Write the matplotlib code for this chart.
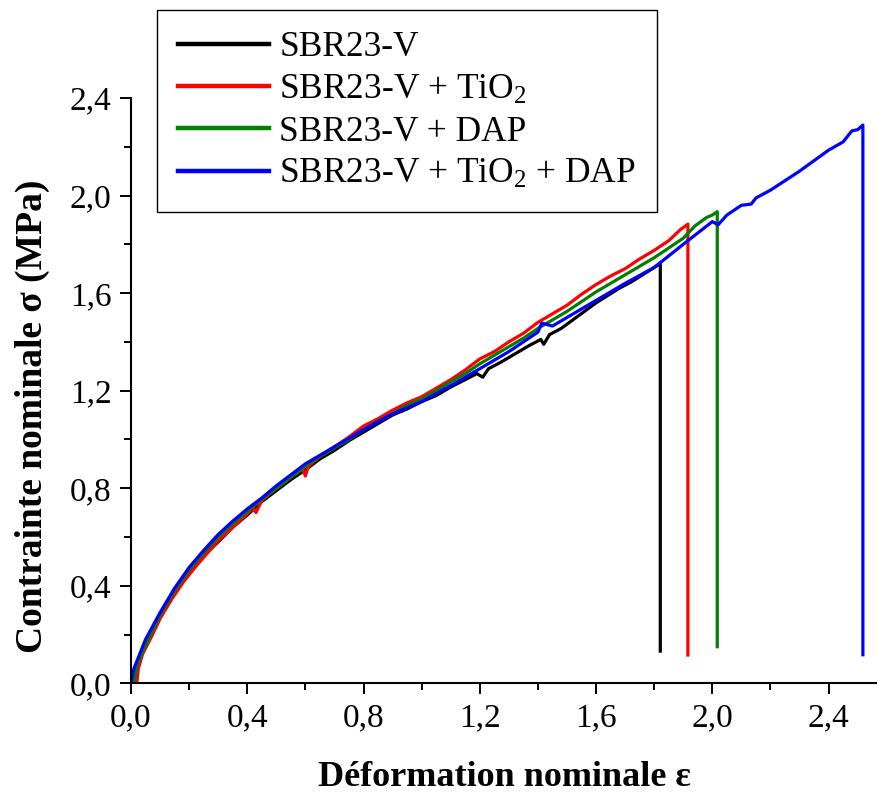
import matplotlib
matplotlib.use("Agg")
import matplotlib.pyplot as plt

plt.rcParams["font.family"] = ["Liberation Serif", "DejaVu Serif"]
plt.rcParams["mathtext.fontset"] = "custom"
plt.rcParams["mathtext.rm"] = "Liberation Serif"
plt.rcParams["mathtext.default"] = "regular"

# SBR23-V
x_black = [0.01, 0.02, 0.04, 0.07, 0.10, 0.14, 0.18, 0.22, 0.26, 0.30, 0.35, 0.40, 0.45,
           0.50, 0.55, 0.60, 0.65, 0.70, 0.75, 0.80, 0.85, 0.90, 0.95, 1.00, 1.05, 1.10,
           1.15, 1.19, 1.21, 1.23, 1.27, 1.32, 1.37, 1.41, 1.42, 1.44, 1.48, 1.52, 1.56,
           1.60, 1.64, 1.68, 1.72, 1.76, 1.80, 1.821, 1.821]
y_black = [0.0, 0.07, 0.13, 0.20, 0.27, 0.35, 0.42, 0.48, 0.535, 0.58, 0.64, 0.69, 0.745,
           0.79, 0.835, 0.875, 0.92, 0.955, 0.995, 1.03, 1.065, 1.10, 1.125, 1.155, 1.18, 1.215,
           1.245, 1.27, 1.255, 1.29, 1.315, 1.35, 1.385, 1.41, 1.39, 1.43, 1.455, 1.49, 1.525,
           1.56, 1.59, 1.62, 1.645, 1.675, 1.705, 1.722, 0.132]

# SBR23-V + TiO2
x_red = [0.02, 0.025, 0.04, 0.07, 0.10, 0.14, 0.18, 0.22, 0.26, 0.30, 0.35, 0.40, 0.42,
         0.43, 0.45, 0.50, 0.55, 0.59, 0.60, 0.61, 0.65, 0.70, 0.75, 0.80, 0.85, 0.90,
         0.95, 1.00, 1.05, 1.10, 1.15, 1.20, 1.25, 1.30, 1.35, 1.40, 1.45, 1.50, 1.55,
         1.60, 1.65, 1.70, 1.75, 1.80, 1.85, 1.89, 1.916, 1.916]
y_red = [0.0, 0.06, 0.12, 0.19, 0.265, 0.345, 0.415, 0.475, 0.53, 0.585, 0.64, 0.695, 0.72,
         0.70, 0.75, 0.80, 0.845, 0.88, 0.85, 0.89, 0.93, 0.97, 1.01, 1.055, 1.085, 1.12,
         1.15, 1.175, 1.21, 1.245, 1.285, 1.33, 1.36, 1.40, 1.435, 1.48, 1.515, 1.55, 1.595,
         1.635, 1.67, 1.70, 1.74, 1.775, 1.815, 1.86, 1.883, 0.116]

# SBR23-V + DAP
x_green = [0.01, 0.02, 0.04, 0.07, 0.10, 0.15, 0.20, 0.25, 0.30, 0.35, 0.40, 0.45, 0.50,
           0.55, 0.60, 0.65, 0.70, 0.75, 0.80, 0.85, 0.90, 0.95, 1.00, 1.05, 1.10, 1.15,
           1.20, 1.25, 1.30, 1.35, 1.40, 1.45, 1.50, 1.55, 1.60, 1.65, 1.70, 1.75, 1.80,
           1.85, 1.90, 1.94, 1.98, 2.00, 2.017, 2.017]
y_green = [0.0, 0.07, 0.13, 0.205, 0.28, 0.38, 0.465, 0.535, 0.60, 0.655, 0.705, 0.755, 0.80,
           0.845, 0.89, 0.93, 0.965, 1.00, 1.04, 1.075, 1.105, 1.14, 1.165, 1.20, 1.235, 1.27,
           1.31, 1.345, 1.38, 1.415, 1.455, 1.49, 1.525, 1.565, 1.605, 1.64, 1.675, 1.71, 1.745,
           1.785, 1.825, 1.875, 1.91, 1.92, 1.934, 0.15]

# SBR23-V + TiO2 + DAP
x_blue = [0.0, 0.01, 0.03, 0.05, 0.10, 0.15, 0.20, 0.25, 0.30, 0.35, 0.40, 0.45, 0.50,
          0.55, 0.60, 0.65, 0.70, 0.75, 0.80, 0.90, 1.00, 1.10, 1.20, 1.30, 1.40, 1.413,
          1.45, 1.50, 1.60, 1.70, 1.80, 1.90, 2.00, 2.02, 2.05, 2.10, 2.134, 2.15, 2.20,
          2.30, 2.40, 2.45, 2.48, 2.50, 2.518, 2.518]
y_blue = [0.0, 0.06, 0.12, 0.18, 0.29, 0.39, 0.475, 0.545, 0.61, 0.665, 0.715, 0.76, 0.81,
          0.855, 0.90, 0.935, 0.97, 1.005, 1.04, 1.105, 1.155, 1.22, 1.29, 1.36, 1.44, 1.477,
          1.465, 1.50, 1.57, 1.64, 1.705, 1.80, 1.893, 1.88, 1.92, 1.96, 1.965, 1.99, 2.022,
          2.10, 2.186, 2.22, 2.265, 2.27, 2.289, 0.117]

labels = ["SBR23-V", "SBR23-V + TiO$_2$", "SBR23-V + DAP", "SBR23-V + TiO$_2$ + DAP"]
colors = ["black", "red", "green", "blue"]

xticks = [0.0, 0.4, 0.8, 1.2, 1.6, 2.0, 2.4]
xticklabels = ["0,0", "0,4", "0,8", "1,2", "1,6", "2,0", "2,4"]
yticks = [0.0, 0.4, 0.8, 1.2, 1.6, 2.0, 2.4]
yticklabels = ["0,0", "0,4", "0,8", "1,2", "1,6", "2,0", "2,4"]

fig = plt.figure(figsize=(8.78, 7.94), dpi=100)
ax = fig.add_axes([0.1492, 0.1394, 0.8508, 0.7372])

series = [(x_black, y_black), (x_red, y_red), (x_green, y_green), (x_blue, y_blue)]
for (xs, ys), c, lab in zip(series, colors, labels):
    ax.plot(xs, ys, color=c, lw=2.3, label=lab, solid_joinstyle="round")

ax.set_xlim(0, 2.57)
ax.set_ylim(0, 2.4)
ax.set_xticks(xticks)
ax.set_xticklabels(xticklabels)
ax.set_yticks(yticks)
ax.set_yticklabels(yticklabels)
ax.set_xticks([0.2, 0.6, 1.0, 1.4, 1.8, 2.2], minor=True)
ax.set_yticks([0.2, 0.6, 1.0, 1.4, 1.8, 2.2], minor=True)
ax.tick_params(which="major", length=8, width=1.4, labelsize=24, pad=6, direction="out")
ax.tick_params(which="minor", length=5, width=1.4, direction="out")

for s in ["top", "right"]:
    ax.spines[s].set_visible(False)
for s in ["left", "bottom"]:
    ax.spines[s].set_linewidth(1.5)

ax.set_xlabel("Déformation nominale ε", fontsize=26, fontweight="bold", labelpad=20)
ax.set_ylabel("Contrainte nominale σ (MPa)", fontsize=27, fontweight="bold", labelpad=14)
ax.yaxis.label.set_y(0.457)

leg = fig.legend(loc="upper left", bbox_to_anchor=(157 / 878, 1 - 10 / 794),
                 bbox_transform=fig.transFigure, fontsize=25.5, frameon=True,
                 fancybox=False, framealpha=1, edgecolor="black", borderaxespad=0,
                 handlelength=2.55, handletextpad=0.3, labelspacing=0.26, borderpad=0.6)
leg.get_frame().set_linewidth(1.0)
for h in leg.get_lines():
    h.set_linewidth(3.2)

fig.savefig("out.png", dpi=100)
